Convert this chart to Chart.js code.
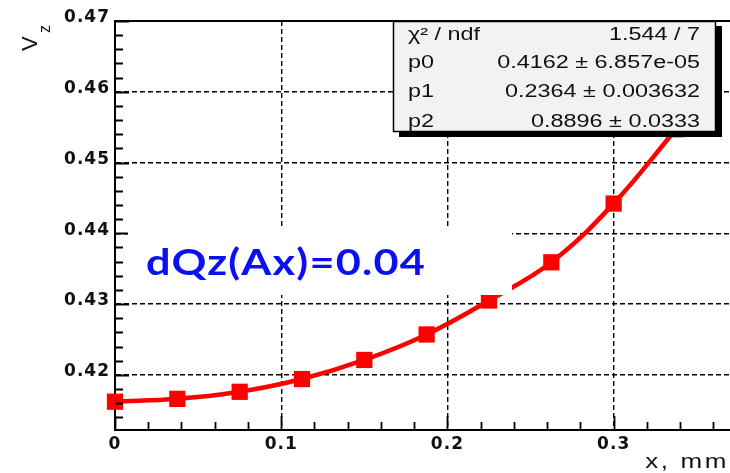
<!DOCTYPE html>
<html>
<head>
<meta charset="utf-8">
<script src="https://cdn.jsdelivr.net/npm/chart.js@4"></script>
<style>
  html, body { margin: 0; padding: 0; background: #fff; overflow: hidden; }
  canvas { display: block; }
</style>
</head>
<body>
<canvas id="fitChart" width="730" height="473"></canvas>
<script>
// measured points (x offset in mm, vertical tune)
const xOffset = [0, 0.0375, 0.075, 0.1125, 0.15, 0.1875, 0.225, 0.2625, 0.3, 0.3375];
const vzTune = [0.4162, 0.4166, 0.4176, 0.4194, 0.4221, 0.4257, 0.4305, 0.4359, 0.4442, 0.4547];

const xTickVals = [0, 0.1, 0.2, 0.3];
const yTickVals = [0.42, 0.43, 0.44, 0.45, 0.46, 0.47];

// fit statistics box
const statNames = ['\u03c7\u00b2 / ndf', 'p0', 'p1', 'p2'];
const statValues = ['1.544 / 7', '0.4162 \u00b1 6.857e-05', '0.2364 \u00b1 0.003632', '0.8896 \u00b1 0.0333'];

const noteText = 'dQz(Ax)=0.04';

const X_MIN = 0, X_MAX = 0.37;
const Y_MIN = 0.4122, Y_MAX = 0.47;
const X_MINOR = 0.02, Y_MINOR = 0.002;

const rootStyle = {
    id: 'rootStyle',
    beforeDraw(chart) {
        chart.ctx.letterSpacing = '1px';
    },
    afterDatasetsDraw(chart) {
        const ctx = chart.ctx;
        const area = chart.chartArea;
        const xs = chart.scales.x;
        const ys = chart.scales.y;

        ctx.save();
        ctx.letterSpacing = '0px';

        // ticks drawn inside the frame, ROOT style
        ctx.strokeStyle = '#000';
        ctx.lineWidth = 1.8;
        ctx.beginPath();
        for (let i = 0; ; i++) {
            const val = Math.round((Y_MIN + 0.0002) / Y_MINOR + i) * Y_MINOR;
            if (val > Y_MAX + 1e-9) break;
            if (val < Y_MIN) continue;
            const major = Math.abs(val * 100 - Math.round(val * 100)) < 1e-6;
            const py = Math.round(ys.getPixelForValue(val)) + 0.5;
            ctx.moveTo(area.left, py);
            ctx.lineTo(area.left + (major ? 14 : 8), py);
        }
        for (let i = 0; ; i++) {
            const val = i * X_MINOR;
            if (val > X_MAX) break;
            const major = Math.abs(val * 10 - Math.round(val * 10)) < 1e-6;
            const px = Math.round(xs.getPixelForValue(val)) + 0.5;
            ctx.moveTo(px, area.bottom);
            ctx.lineTo(px, area.bottom - (major ? 14 : 8));
        }
        ctx.stroke();

        // top frame line
        ctx.lineWidth = 2;
        ctx.beginPath();
        ctx.moveTo(area.left, area.top);
        ctx.lineTo(area.right, area.top);
        ctx.stroke();

        // annotation on white patch
        ctx.fillStyle = '#fff';
        ctx.fillRect(128, 229, 384, 66);
        ctx.font = 'bold 36px Lato';
        ctx.letterSpacing = '1px';
        const w = ctx.measureText(noteText).width;
        ctx.save();
        ctx.translate(146, 275);
        ctx.scale(280 / w, 1);
        ctx.fillStyle = '#0a10f0';
        ctx.textBaseline = 'alphabetic';
        ctx.fillText(noteText, 0, 0);
        ctx.restore();
        ctx.letterSpacing = '0px';

        // stats box with shadow
        const bx = 393, by = area.top, bw = 323, bh = 111;
        ctx.fillStyle = '#000';
        ctx.fillRect(bx + 6, by + 5, bw, bh);
        ctx.fillStyle = '#f2f2f2';
        ctx.fillRect(bx, by, bw, bh);
        ctx.lineWidth = 1.5;
        ctx.strokeRect(bx + 0.5, by + 0.5, bw - 1, bh - 1);

        ctx.save();
        ctx.beginPath();
        ctx.rect(bx + 1, by + 2, bw - 2, bh - 3);
        ctx.clip();
        ctx.fillStyle = '#111';
        ctx.font = '18px "Liberation Sans"';
        const baselines = [40, 68, 97, 127];
        statNames.forEach((name, i) => {
            ctx.save();
            ctx.translate(408, baselines[i]);
            ctx.scale(1.3, 1);
            ctx.textAlign = 'left';
            ctx.fillText(name, 0, 0);
            ctx.restore();
            ctx.save();
            ctx.translate(700, baselines[i]);
            ctx.scale(1.3, 1);
            ctx.textAlign = 'right';
            ctx.fillText(statValues[i], 0, 0);
            ctx.restore();
        });
        ctx.restore();

        // axis titles
        ctx.fillStyle = '#111';
        ctx.save();
        ctx.translate(37, 51);
        ctx.rotate(-Math.PI / 2);
        ctx.font = '22px "Liberation Sans"';
        ctx.textAlign = 'left';
        ctx.fillText('V', 0, 0);
        ctx.font = '16px "Liberation Sans"';
        ctx.fillText('z', 18, 13);
        ctx.restore();

        ctx.save();
        ctx.translate(729, 468);
        ctx.scale(1.3, 1);
        ctx.font = '20px "Liberation Sans"';
        ctx.letterSpacing = '2px';
        ctx.textAlign = 'right';
        ctx.fillText('x, mm', 0, 0);
        ctx.restore();

        ctx.restore();
    }
};

const ctx = document.getElementById('fitChart').getContext('2d');
const myChart = new Chart(ctx, {
    type: 'scatter',
    data: {
        datasets: [{
            data: xOffset.map((x, i) => ({ x: x, y: vzTune[i] })),
            showLine: true,
            borderColor: '#ff0000',
            backgroundColor: '#ff0000',
            borderWidth: 4.5,
            tension: 0.4,
            pointStyle: 'rect',
            pointRadius: 11.5,
            pointBorderWidth: 0,
            clip: false
        }]
    },
    options: {
        responsive: false,
        devicePixelRatio: 1,
        animation: false,
        layout: { autoPadding: false, padding: { top: 21, right: 0, left: 0, bottom: 0 } },
        plugins: {
            legend: { display: false },
            tooltip: { enabled: false }
        },
        scales: {
            x: {
                type: 'linear',
                min: X_MIN,
                max: X_MAX,
                afterBuildTicks: (scale) => { scale.ticks = xTickVals.map(v => ({ value: v })); },
                afterFit: (scale) => {
                    scale.height = 43;
                    scale.paddingLeft = 0;
                    scale.paddingRight = 0;
                },
                ticks: {
                    color: '#111',
                    font: { family: 'DejaVu Sans', size: 17, weight: 'bold' },
                    padding: 4,
                    maxRotation: 0,
                    callback: (v) => String(v)
                },
                grid: {
                    drawTicks: false,
                    color: (c) => (c.tick && c.tick.value === 0) ? 'rgba(0,0,0,0)' : '#000',
                    lineWidth: 1.4
                },
                border: { color: '#000', width: 2, dash: [5, 3] }
            },
            y: {
                type: 'linear',
                min: Y_MIN,
                max: Y_MAX,
                afterBuildTicks: (scale) => { scale.ticks = yTickVals.map(v => ({ value: v })); },
                afterFit: (scale) => {
                    scale.width = 115;
                    scale.paddingTop = 0;
                    scale.paddingBottom = 0;
                },
                ticks: {
                    color: '#111',
                    font: { family: 'DejaVu Sans', size: 17, weight: 'bold' },
                    padding: 5,
                    labelOffset: -3,
                    callback: (v) => String(v)
                },
                grid: {
                    drawTicks: false,
                    color: (c) => (c.tick && c.tick.value === 0.47) ? 'rgba(0,0,0,0)' : '#000',
                    lineWidth: 1.4
                },
                border: { color: '#000', width: 2, dash: [5, 3] }
            }
        }
    },
    plugins: [rootStyle]
});
</script>
</body>
</html>
